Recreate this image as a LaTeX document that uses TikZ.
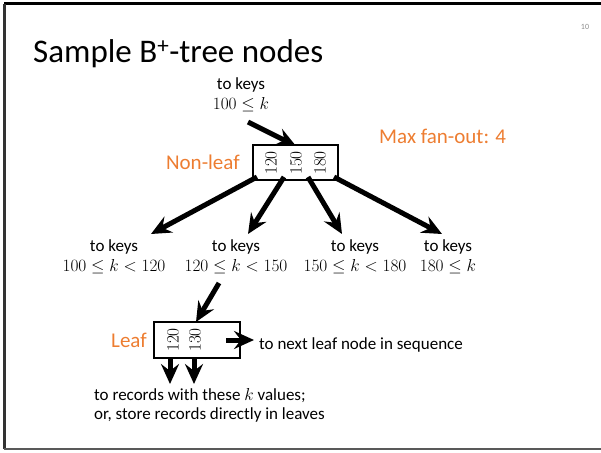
\documentclass[tikz,border=0pt]{standalone}
\usepackage{fontspec}
\setmainfont{Carlito}
\usetikzlibrary{arrows.meta}
\definecolor{accent}{RGB}{237,125,49}
\newcommand{\rng}[1]{{\fontsize{18.5}{20}\selectfont$#1$}}
\begin{document}
\begin{tikzpicture}[x=1pt,y=-1pt,
  fat/.style={line width=5pt,-{Stealth[length=20pt,width=18pt,inset=7pt]}},
  keybox/.style={draw,line width=2.4pt,minimum width=85pt,minimum height=35pt,inner sep=0pt},
  keyval/.style={rotate=90,font=\fontsize{17.5}{17.5}\selectfont,inner sep=0pt},
  body/.style={font=\fontsize{17}{20}\selectfont,align=center,inner sep=0pt},
  tag/.style={font=\fontsize{21}{23}\selectfont,text=accent,inner sep=0pt}]
\useasboundingbox (0,0) rectangle (601,452);
% slide frame
\draw[line width=3pt,black] (601,4) -- (4,4);
\draw[line width=3pt,black!80] (4,4) -- (4,449);
\draw[line width=2pt,black!65] (4,449) -- (601,449);
\node[text=black!45,font=\fontsize{8}{8}\selectfont] (pg) at (585,27) {10};
% title
\node[anchor=base west,font=\fontsize{33}{37}\selectfont,inner sep=0pt] (title) at (33,63) {Sample B\textsuperscript{+}-tree nodes};
\node[tag,anchor=west] (fan) at (379,136) {Max fan-out: 4};
% non-leaf node
\node[keybox] (nl) at (295.5,162.5) {};
\node[keyval] (k1) at (271,163) {$120$};
\node[keyval] (k2) at (296,163) {$150$};
\node[keyval] (k3) at (320,163) {$180$};
\node[tag,anchor=east] (nltag) at (240,162) {Non-leaf};
\node[body] (top) at (241,95) {to keys\\\rng{100 \le k}};
\coordinate (topstart) at (248,122);
\coordinate (topend) at (296,146);
\draw[fat] (topstart) -- (topend);
% children ranges
\node[body] (c1) at (114,257) {to keys\\\rng{100 \le k < 120}};
\node[body] (c2) at (236,257) {to keys\\\rng{120 \le k < 150}};
\node[body] (c3) at (355,257) {to keys\\\rng{150 \le k < 180}};
\node[body] (c4) at (448,257) {to keys\\\rng{180 \le k}};
\coordinate (s1) at (257,177);
\coordinate (s2) at (284,177);
\coordinate (s3) at (308,177);
\coordinate (s4) at (334,177);
\coordinate (e1) at (151,234);
\coordinate (e2) at (248,234);
\coordinate (e3) at (342,234);
\coordinate (e4) at (442,234);
\draw[fat] (s1) -- (e1);
\draw[fat] (s2) -- (e2);
\draw[fat] (s3) -- (e3);
\draw[fat] (s4) -- (e4);
% leaf node
\node[keybox,minimum width=86pt,minimum height=36pt] (lf) at (197,340) {};
\node[keyval] (l1) at (173,340) {$120$};
\node[keyval] (l2) at (195,340) {$130$};
\node[tag,anchor=east] (lftag) at (147,340) {Leaf};
\coordinate (ls) at (219,283);
\coordinate (le) at (196,322);
\draw[fat] (ls) -- (le);
\coordinate (ns) at (226,340);
\coordinate (ne) at (254,340);
\draw[fat] (ns) -- (ne);
\node[body,anchor=west] (next) at (259,345) {to next leaf node in sequence};
\coordinate (r1) at (170,357);
\coordinate (r2) at (194,357);
\coordinate (d1) at (170,384);
\coordinate (d2) at (194,384);
\draw[fat] (r1) -- (d1);
\draw[fat] (r2) -- (d2);
\node[body,font=\fontsize{17}{19}\selectfont,align=left,anchor=north west] (rec) at (94,388) {to records with these $k$ values;\\or, store records directly in leaves};
\end{tikzpicture}
\end{document}
